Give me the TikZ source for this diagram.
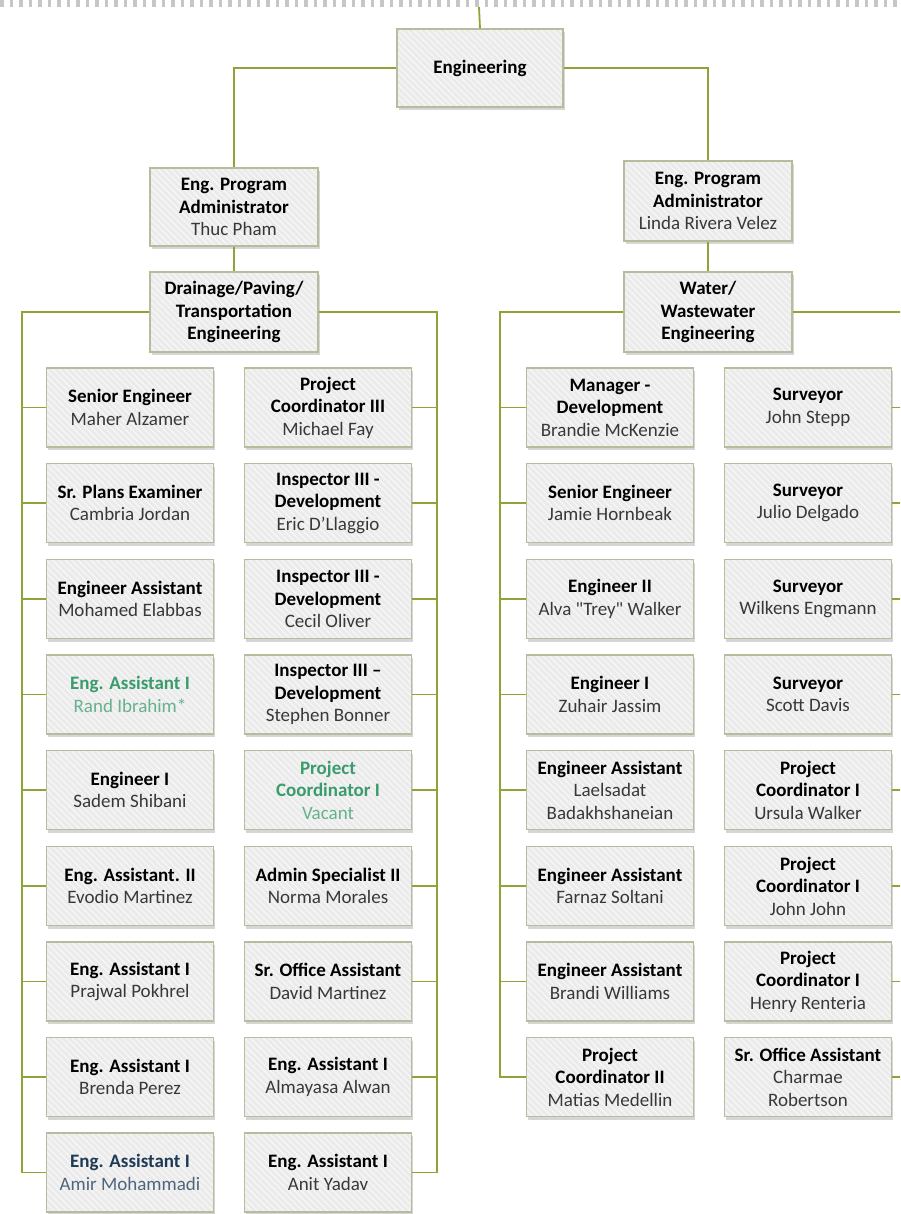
\documentclass[tikz,border=0pt]{standalone}
\usepackage{fontspec}
\setmainfont{Carlito}
\usetikzlibrary{patterns.meta, shadows}

\definecolor{linkgreen}{HTML}{8DA436}
\definecolor{boxline}{HTML}{B8BC9C}
\definecolor{boxfill}{HTML}{EBEBEB}
\definecolor{vacgreen}{HTML}{3A9C6C}
\definecolor{navyblue}{HTML}{1E3A56}
\newcommand{\nm}[1]{{\mdseries\color{.!78!white}#1}}

\begin{document}
\begin{tikzpicture}[x=1pt, y=-1pt,
    every node/.style={font=\bfseries\fontsize{19}{22.5}\selectfont},
    orgbox/.style={
        drop shadow={shadow xshift=1.5pt, shadow yshift=-3pt, fill=black, opacity=0.16},
        preaction={fill=boxfill},
        preaction={pattern={Lines[angle=-45, distance=4.5pt, line width=1pt]}, pattern color=white!70!boxfill},
        draw=boxline, line width=1.3pt,
        minimum width=167pt, minimum height=79pt, align=center, inner sep=1pt},
    vacant/.style={orgbox, text=vacgreen},
    navy/.style={orgbox, text=navyblue},
    link/.style={draw=linkgreen, line width=1.8pt}]

    % === Page frame ===
    \useasboundingbox (0,0) rectangle (900,1214);
    \clip (0,0) rectangle (900,1214);
    \draw[gray!45, line width=7pt, dash pattern=on 3.5pt off 6pt] (0,3.5) -- (900,3.5);

    % === Column positions ===
    \def\cA{130}  \def\cB{328}  \def\cC{610}  \def\cD{808}

    % === Top levels ===
    \coordinate (topin) at (479,7);
    \node[orgbox, minimum width=166pt, minimum height=78pt] (eng) at (480,68) {Engineering};
    \node[orgbox, minimum width=168pt, minimum height=78pt] (admL) at (234,207)
    {Eng. Program\\Administrator\\\nm{Thuc Pham}};
    \node[orgbox, minimum width=168pt, minimum height=80pt] (admR) at (708,201)
    {Eng. Program\\Administrator\\\nm{Linda Rivera Velez}};
    \node[orgbox, minimum width=168pt, minimum height=80pt] (drain) at (234,312)
    {Drainage/Paving/\\Transportation\\Engineering};
    \node[orgbox, minimum width=168pt, minimum height=80pt] (water) at (708,312)
    {Water/\\Wastewater\\Engineering};

    % === Drainage/Paving/Transportation staff ===
    % left column
    \node[orgbox] (a1) at (\cA,407.5) {Senior Engineer\\\nm{Maher Alzamer}};
    \node[orgbox] (a2) at (\cA,503) {Sr. Plans Examiner\\\nm{Cambria Jordan}};
    \node[orgbox] (a3) at (\cA,599) {Engineer Assistant\\\nm{Mohamed Elabbas}};
    \node[vacant] (a4) at (\cA,694.5) {Eng. Assistant I\\\nm{Rand Ibrahim*}};
    \node[orgbox] (a5) at (\cA,790) {Engineer I\\\nm{Sadem Shibani}};
    \node[orgbox] (a6) at (\cA,886) {Eng. Assistant. II\\\nm{Evodio Martinez}};
    \node[orgbox] (a7) at (\cA,981.5) {Eng. Assistant I\\\nm{Prajwal Pokhrel}};
    \node[orgbox] (a8) at (\cA,1077) {Eng. Assistant I\\\nm{Brenda Perez}};
    \node[navy] (a9) at (\cA,1172.5) {Eng. Assistant I\\\nm{Amir Mohammadi}};
    % right column
    \node[orgbox] (b1) at (\cB,407.5) {Project\\Coordinator III\\\nm{Michael Fay}};
    \node[orgbox] (b2) at (\cB,503) {Inspector III -\\Development\\\nm{Eric D'Llaggio}};
    \node[orgbox] (b3) at (\cB,599) {Inspector III -\\Development\\\nm{Cecil Oliver}};
    \node[orgbox] (b4) at (\cB,694.5) {Inspector III --\\Development\\\nm{Stephen Bonner}};
    \node[vacant] (b5) at (\cB,790) {Project\\Coordinator I\\\nm{Vacant}};
    \node[orgbox] (b6) at (\cB,886) {Admin Specialist II\\\nm{Norma Morales}};
    \node[orgbox] (b7) at (\cB,981.5) {Sr. Office Assistant\\\nm{David Martinez}};
    \node[orgbox] (b8) at (\cB,1077) {Eng. Assistant I\\\nm{Almayasa Alwan}};
    \node[orgbox] (b9) at (\cB,1172.5) {Eng. Assistant I\\\nm{Anit Yadav}};

    % === Water/Wastewater staff ===
    % left column
    \node[orgbox] (c1) at (\cC,407.5) {Manager -\\Development\\\nm{Brandie McKenzie}};
    \node[orgbox] (c2) at (\cC,503) {Senior Engineer\\\nm{Jamie Hornbeak}};
    \node[orgbox] (c3) at (\cC,599) {Engineer II\\\nm{Alva \textquotedbl Trey\textquotedbl\ Walker}};
    \node[orgbox] (c4) at (\cC,694.5) {Engineer I\\\nm{Zuhair Jassim}};
    \node[orgbox] (c5) at (\cC,790) {Engineer Assistant\\\nm{Laelsadat}\\\nm{Badakhshaneian}};
    \node[orgbox] (c6) at (\cC,886) {Engineer Assistant\\\nm{Farnaz Soltani}};
    \node[orgbox] (c7) at (\cC,981.5) {Engineer Assistant\\\nm{Brandi Williams}};
    \node[orgbox] (c8) at (\cC,1077) {Project\\Coordinator II\\\nm{Matias Medellin}};
    % right column
    \node[orgbox] (d1) at (\cD,407.5) {Surveyor\\\nm{John Stepp}};
    \node[orgbox] (d2) at (\cD,503) {Surveyor\\\nm{Julio Delgado}};
    \node[orgbox] (d3) at (\cD,599) {Surveyor\\\nm{Wilkens Engmann}};
    \node[orgbox] (d4) at (\cD,694.5) {Surveyor\\\nm{Scott Davis}};
    \node[orgbox] (d5) at (\cD,790) {Project\\Coordinator I\\\nm{Ursula Walker}};
    \node[orgbox] (d6) at (\cD,886) {Project\\Coordinator I\\\nm{John John}};
    \node[orgbox] (d7) at (\cD,981.5) {Project\\Coordinator I\\\nm{Henry Renteria}};
    \node[orgbox] (d8) at (\cD,1077) {Sr. Office Assistant\\\nm{Charmae}\\\nm{Robertson}};

    % === Connectors ===
    \draw[link] (topin) -- (eng.north);
    \draw[link] (eng.west) -| (admL.north);
    \draw[link] (eng.east) -| (admR.north);
    \draw[link] (admL.south) -- (drain.north);
    \draw[link] (admR.south) -- (water.north);

    % spines
    \coordinate (spineA) at (22,1172.5);
    \coordinate (spineB) at (437,1172.5);
    \coordinate (spineC) at (500,1077);
    \coordinate (spineD) at (905,1077);
    \draw[link] (drain.west) -| (spineA) -- (a9.west);
    \draw[link] (drain.east) -| (spineB) -- (b9.east);
    \draw[link] (water.west) -| (spineC) -- (c8.west);
    \draw[link] (water.east) -| (spineD) -- (d8.east);

    % branches
    \foreach \k in {1,...,8} {
        \draw[link] (a\k.west) -- (a\k.west -| spineA);
        \draw[link] (b\k.east) -- (b\k.east -| spineB);
    }
    \foreach \k in {1,...,7} {
        \draw[link] (c\k.west) -- (c\k.west -| spineC);
        \draw[link] (d\k.east) -- (d\k.east -| spineD);
    }

\end{tikzpicture}
\end{document}
